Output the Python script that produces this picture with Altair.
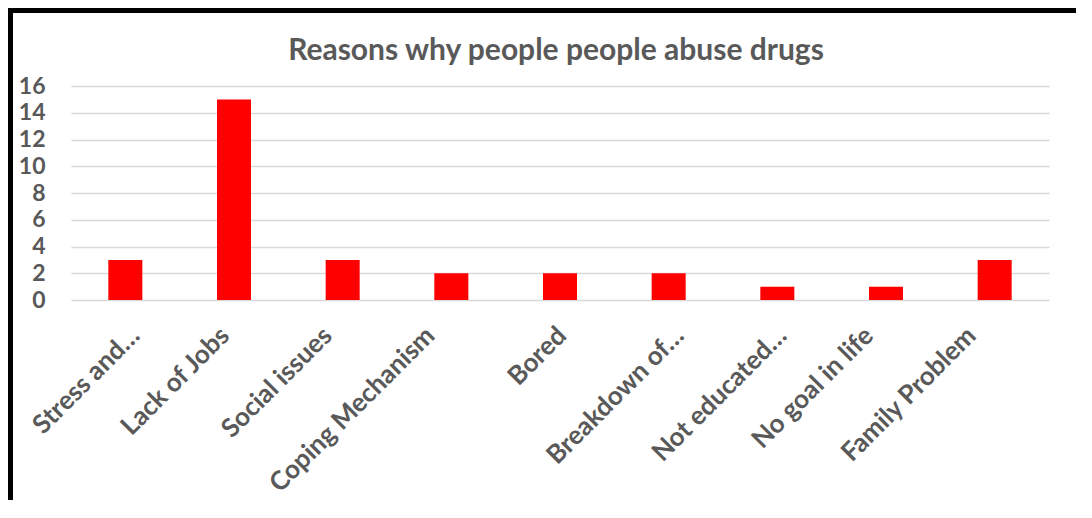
import altair as alt
import pandas as pd

categories = ["Stress and…", "Lack of Jobs", "Social issues", "Coping Mechanism",
              "Bored", "Breakdown of…", "Not educated…", "No goal in life", "Family Problem"]
counts = [3, 15, 3, 2, 2, 2, 1, 1, 3]
y_ticks = [0, 2, 4, 6, 8, 10, 12, 14, 16]
title_text = ["Reasons why people people abuse drugs"]
# horizontal shift of each rotated category label (style, as in the source)
label_shift = [1, -18, -24, -30, -7, 2, -4, -26, -32]

df = pd.DataFrame({"reason": categories, "count": counts})
df_title = pd.DataFrame({"t": title_text})

W, H = 978, 214
PAD = {"left": 63, "top": 78, "right": 27, "bottom": 200}
GRAY = "#595959"
FONT = "Lato"

offset_cond = {
    "condition": [{"test": f"datum.value === '{c}'", "value": s}
                  for c, s in zip(categories, label_shift)],
    "value": 0,
}

bars = alt.Chart(df).mark_bar(color="#ff0000").encode(
    x=alt.X("reason:N", sort=categories,
            scale=alt.Scale(paddingInner=0.687, paddingOuter=0.3435),
            axis=alt.Axis(title=None, labelAngle=-45, labelFontSize=26, labelFont=FONT,
                          labelFontWeight="bold", labelColor=GRAY, ticks=False,
                          domain=False, labelPadding=22, labelLimit=400,
                          labelOffset=offset_cond)),
    y=alt.Y("count:Q", scale=alt.Scale(domain=[0, 16]),
            axis=alt.Axis(title=None, values=y_ticks, labelFontSize=23, labelFont=FONT,
                          labelFontWeight="bold", labelColor=GRAY, ticks=False,
                          domain=False, labelPadding=26, gridColor="#d9d9d9",
                          gridWidth=1.5)),
)

title = alt.Chart(df_title).mark_text(
    font=FONT, fontSize=30, fontWeight="bold", color=GRAY,
    align="center", baseline="alphabetic"
).encode(text="t:N", x=alt.value(W / 2 - 4), y=alt.value(-26))

border_left = alt.Chart(df).mark_rule(color="black", strokeWidth=5).encode(
    x=alt.value(-60.5), y=alt.value(-78), y2=alt.value(H + PAD["bottom"]))
border_top = alt.Chart(df).mark_rule(color="black", strokeWidth=5).encode(
    y=alt.value(-75.5), x=alt.value(-63), x2=alt.value(W + PAD["right"]))

chart = alt.layer(bars, title, border_left, border_top).properties(
    width=W, height=H,
    autosize=alt.AutoSizeParams(type="none"),
    padding=PAD,
).configure_view(stroke=None)

chart.save("out.html", embed_options={"renderer": "svg", "actions": False})
